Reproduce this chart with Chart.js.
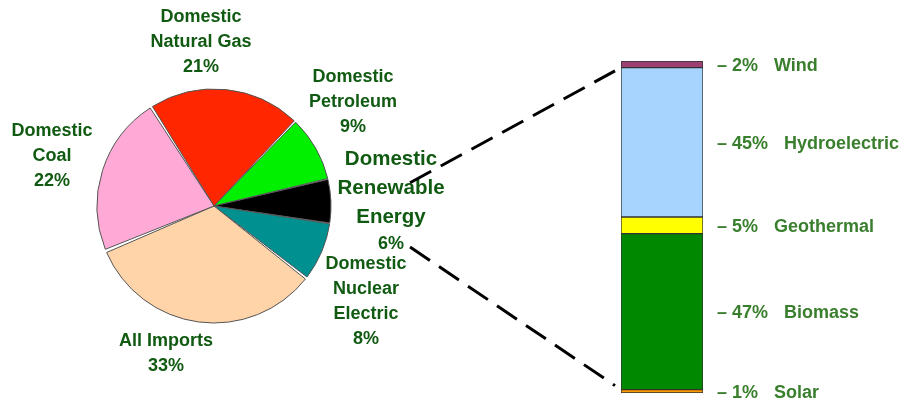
<!DOCTYPE html>
<html>
<head>
<meta charset="utf-8">
<script src="https://cdn.jsdelivr.net/npm/chart.js@4.4.1/dist/chart.umd.min.js"></script>
<style>
  html, body { margin: 0; padding: 0; background: #fff; }
  #wrap { position: relative; width: 907px; height: 400px; overflow: hidden; }
  #pie { position: absolute; left: 0; top: 0; }
  #bar { position: absolute; left: 400px; top: 0; }
</style>
</head>
<body>
<div id="wrap">
  <canvas id="pie" width="460" height="400"></canvas>
  <canvas id="bar" width="507" height="400"></canvas>
</div>
<script>
// pie: all energy sources (percent)
const pieLabels = [
    ["Domestic", "Natural Gas"],
    ["Domestic", "Petroleum"],
    ["Domestic", "Renewable", "Energy"],
    ["Domestic", "Nuclear", "Electric"],
    ["All Imports"],
    ["Domestic", "Coal"],
];
const pieValues = [21, 9, 6, 8, 33, 22];
const pieColors = ["#FF2600", "#00F000", "#000000", "#009090", "#FFD4A8", "#FFA9D6"];

// bar: split of renewable energy, bottom to top (percent)
const renewLabels = ["Solar", "Biomass", "Geothermal", "Hydroelectric", "Wind"];
const renewValues = [1, 47, 5, 45, 2];
const renewColors = ["#FF9900", "#008800", "#FFFF00", "#A6D4FF", "#9C3F73"];

const FONT = "'Liberation Sans', Arial, sans-serif";
const pieTextColor = "#115A12";
const barTextColor = "#3A7F2E";
const textSize = 18;

// label block offsets from the pie centre (first line centre), px
const labelSpots = [[-13, -190], [139, -130], [177, -48], [152, 57], [-48, 134], [-162, -76]];

const pieText = {
    id: "pieText",
    afterDraw(chart) {
        const ctx = chart.ctx;
        const arc = chart.getDatasetMeta(0).data[0];
        const cx = arc.x, cy = arc.y;
        ctx.save();
        ctx.fillStyle = pieTextColor;
        ctx.textAlign = "center";
        ctx.textBaseline = "alphabetic";
        pieLabels.forEach((lines, i) => {
            const big = i === 2;
            const x = cx + labelSpots[i][0];
            let y = cy + labelSpots[i][1];
            const size = big ? 20.5 : textSize;
            const step = big ? 29 : 25;
            ctx.font = "bold " + size + "px " + FONT;
            lines.forEach((line) => {
                ctx.fillText(line, x, y + size * 0.36);
                y += step;
            });
            if (big) y -= 2;
            ctx.font = "bold " + textSize + "px " + FONT;
            ctx.fillText(pieValues[i] + "%", x, y + textSize * 0.36);
        });
        ctx.restore();
    },
};

const pieChart = new Chart(document.getElementById("pie").getContext("2d"), {
    type: "pie",
    data: {
        labels: pieLabels.map((l) => l.join(" ")),
        datasets: [
            {
                data: pieValues,
                backgroundColor: pieColors,
                borderColor: "#555555",
                borderWidth: 1,
                spacing: 2,
            },
        ],
    },
    options: {
        responsive: false,
        animation: false,
        rotation: -32.4,
        layout: { padding: { left: 96.5, right: 128.5, top: 88.5, bottom: 76.5 } },
        plugins: {
            legend: { display: false },
            tooltip: { enabled: false },
        },
    },
    plugins: [pieText],
});

const barText = {
    id: "barText",
    afterDraw(chart) {
        const ctx = chart.ctx;
        ctx.save();
        // labels right of each segment
        ctx.fillStyle = barTextColor;
        ctx.font = "bold " + textSize + "px " + FONT;
        ctx.textAlign = "left";
        ctx.textBaseline = "alphabetic";
        renewLabels.forEach((name, i) => {
            const bar = chart.getDatasetMeta(i).data[0];
            const y = (bar.y + bar.base) / 2 + textSize * 0.36;
            const x = bar.x + bar.width / 2 + 14;
            const pct = "\u2013 " + renewValues[i] + "%";
            ctx.fillText(pct, x, y);
            ctx.fillText(name, x + ctx.measureText(pct).width + 16, y);
        });

        // dashed connectors from the renewable slice to the bar
        const arc = pieChart.getDatasetMeta(0).data[2];
        const shift = pieChart.canvas.offsetLeft - chart.canvas.offsetLeft;
        const r = arc.outerRadius;
        const top = chart.getDatasetMeta(renewLabels.length - 1).data[0];
        const bottom = chart.getDatasetMeta(0).data[0];
        const lines = [
            [arc.x + shift + 1.69 * r, arc.y - 0.2 * r, top.x - top.width / 2, top.base],
            [arc.x + shift + 1.69 * r, arc.y + 0.353 * r, bottom.x - bottom.width / 2, bottom.y],
        ];
        ctx.strokeStyle = "#000";
        ctx.lineWidth = 3;
        ctx.setLineDash([24, 11]);
        lines.forEach(([x1, y1, x2, y2]) => {
            const t = (x2 - 6 - x1) / (x2 - x1);
            ctx.beginPath();
            ctx.moveTo(x1, y1);
            ctx.lineTo(x1 + (x2 - x1) * t, y1 + (y2 - y1) * t);
            ctx.stroke();
        });
        ctx.restore();
    },
};

new Chart(document.getElementById("bar").getContext("2d"), {
    type: "bar",
    data: {
        labels: ["Domestic Renewable Energy"],
        datasets: renewLabels.map((name, i) => ({
            label: name,
            data: [renewValues[i]],
            backgroundColor: renewColors[i],
            borderColor: "#333333",
            borderWidth: 1,
            borderSkipped: false,
            barPercentage: 1,
            categoryPercentage: 1,
        })),
    },
    options: {
        responsive: false,
        animation: false,
        layout: { padding: { left: 221, right: 204, top: 61, bottom: 7 } },
        plugins: {
            legend: { display: false },
            tooltip: { enabled: false },
        },
        scales: {
            x: { stacked: true, display: false },
            y: { stacked: true, display: false, min: 0, max: 100 },
        },
    },
    plugins: [barText],
});
</script>
</body>
</html>
